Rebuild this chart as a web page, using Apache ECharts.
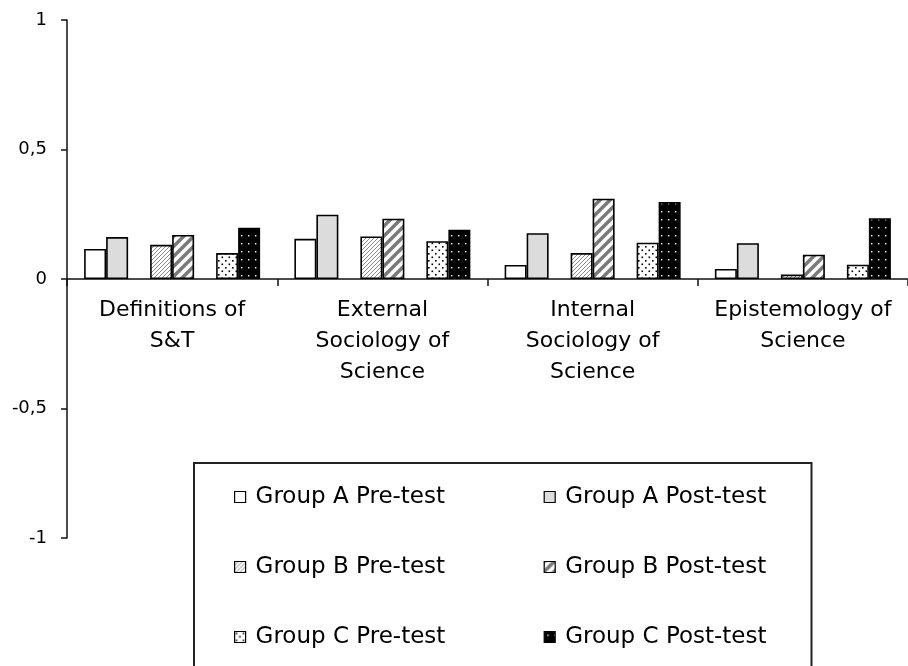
<!DOCTYPE html>
<html>
<head>
<meta charset="utf-8">
<script src="https://cdn.jsdelivr.net/npm/echarts@6/dist/echarts.min.js"></script>
<style>
  html, body { margin: 0; padding: 0; background: #fff; }
  #main { width: 908px; height: 666px; }
</style>
</head>
<body>
<div id="main"></div>
<script>
// categories on the x axis
const categories = [
  'Definitions of\nS&T',
  'External\nSociology of\nScience',
  'Internal\nSociology of\nScience',
  'Epistemology of\nScience'
]
// values
const groupAPre = [0.116, 0.155, 0.054, 0.039]
const groupAPost = [0.162, 0.248, 0.177, 0.138]
const groupBPre = [0.132, 0.164, 0.100, 0.017]
const groupBPost = [0.170, 0.233, 0.310, 0.094]
const groupCPre = [0.100, 0.146, 0.140, 0.055]
const groupCPost = [0.198, 0.190, 0.297, 0.235]
// y axis ticks
const yMin = -1
const yMax = 1
const yStep = 0.5

const FONT = 'DejaVu Sans'

// small canvas tiles used as fill patterns
function makeTile(w, h, bg, draw) {
  let c = document.createElement('canvas')
  c.width = w
  c.height = h
  let ctx = c.getContext('2d')
  ctx.fillStyle = bg
  ctx.fillRect(0, 0, w, h)
  draw(ctx, w, h)
  return { image: c, repeat: 'repeat' }
}

const fineHatch = makeTile(4, 4, '#fff', function (ctx) {
  ctx.strokeStyle = '#8a8a8a'
  ctx.lineWidth = 1
  for (let k = -1; k <= 1; k++) {
    ctx.beginPath()
    ctx.moveTo(k * 4 - 1, 5)
    ctx.lineTo(k * 4 + 5, -1)
    ctx.stroke()
  }
})
const wideStripes = makeTile(10, 10, '#fff', function (ctx) {
  ctx.strokeStyle = '#7a7a7a'
  ctx.lineWidth = 3.5
  for (let k = -1; k <= 1; k++) {
    ctx.beginPath()
    ctx.moveTo(k * 10 - 2, 12)
    ctx.lineTo(k * 10 + 12, -2)
    ctx.stroke()
  }
})
const lightDots = makeTile(7, 7, '#fff', function (ctx) {
  ctx.fillStyle = '#000'
  ctx.fillRect(1, 1, 1.6, 1.6)
  ctx.fillRect(4.5, 4.5, 1.6, 1.6)
})
const darkDots = makeTile(7, 8, '#000', function (ctx) {
  ctx.fillStyle = '#fff'
  ctx.fillRect(3, 3, 1.4, 1.4)
})

function barSeries(name, data, fill) {
  return {
    name: name,
    type: 'bar',
    data: data,
    barWidth: 22,
    barGap: '0%',
    itemStyle: { color: fill, borderColor: '#000', borderWidth: 1.6 },
    emphasis: { disabled: true },
  }
}

// empty series only keep the gap between the groups
function spacer() {
  return { type: 'bar', data: categories.map(() => '-'), barWidth: 22, barGap: '0%', silent: true }
}

const legendNames = [
  'Group A Pre-test', 'Group A Post-test',
  'Group B Pre-test', 'Group B Post-test',
  'Group C Pre-test', 'Group C Post-test'
]

let myChart = echarts.init(document.getElementById('main'))
let option = {
  animation: false,
  grid: { left: 67, right: -7, top: 20, bottom: 128, containLabel: false },
  legend: {
    left: 194,
    top: 463,
    width: 620,
    padding: [9, 45, 30, 40],
    itemGap: 20,
    itemWidth: 11,
    itemHeight: 11,
    icon: 'rect',
    borderColor: '#222',
    borderWidth: 2,
    selectedMode: false,
    itemStyle: { borderColor: '#000', borderWidth: 1.2 },
    textStyle: { fontFamily: FONT, fontSize: 23, color: '#000', lineHeight: 50, padding: [0, 0, 0, 5] },
    data: legendNames.map((n, i) => i % 2 === 0
      ? { name: n, textStyle: { width: 268 } }
      : { name: n })
  },
  xAxis: {
    type: 'category',
    data: categories,
    axisLine: { onZero: true, lineStyle: { color: '#111', width: 1.5 } },
    axisTick: { show: true, length: 7, lineStyle: { color: '#111', width: 1.5 } },
    // labels sit under the zero line, not at the bottom of the grid
    axisLabel: {
      interval: 0, margin: -243, fontFamily: FONT, fontSize: 22, lineHeight: 31, color: '#000', align: 'center'
    },
    splitLine: { show: false }
  },
  yAxis: {
    type: 'value',
    min: yMin,
    max: yMax,
    interval: yStep,
    axisLine: { show: true, lineStyle: { color: '#111', width: 1.5 } },
    axisTick: { show: true, length: 6, lineStyle: { color: '#111', width: 1.5 } },
    axisLabel: {
      margin: 20, fontFamily: FONT, fontSize: 18, color: '#000',
      formatter: v => String(v).replace('.', ',')
    },
    splitLine: { show: false }
  },
  series: [
    barSeries(legendNames[0], groupAPre, '#fff'),
    barSeries(legendNames[1], groupAPost, '#dcdcdc'),
    spacer(),
    barSeries(legendNames[2], groupBPre, fineHatch),
    barSeries(legendNames[3], groupBPost, wideStripes),
    spacer(),
    barSeries(legendNames[4], groupCPre, lightDots),
    barSeries(legendNames[5], groupCPost, darkDots),
  ]
}
myChart.setOption(option)
</script>
</body>
</html>
